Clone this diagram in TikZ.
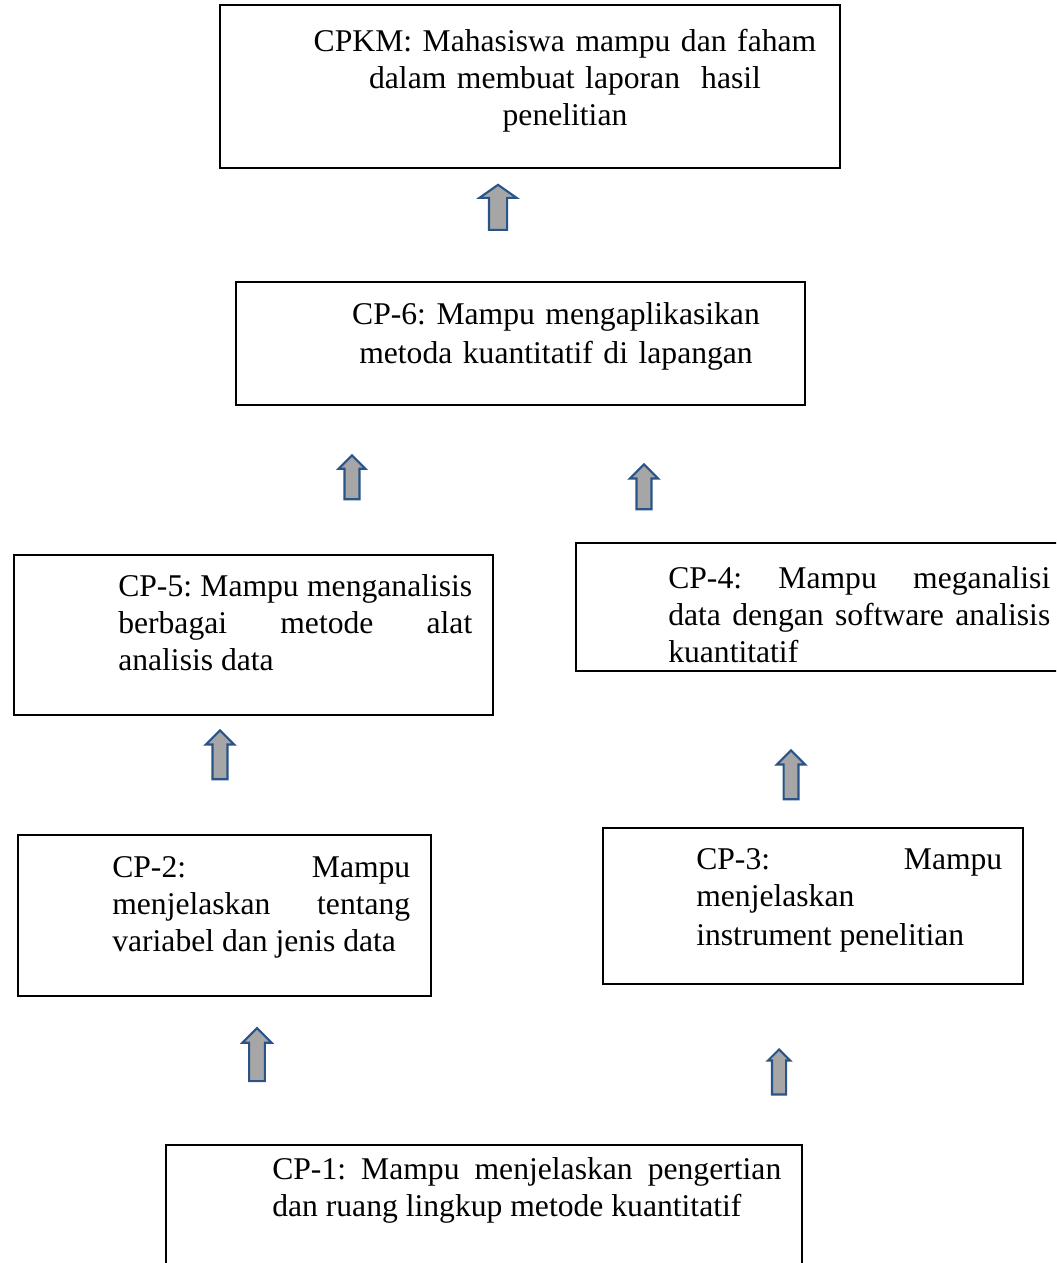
\documentclass[tikz,border=0pt]{standalone}
\usepackage{fontspec}
\setmainfont{Liberation Serif}
\usepackage{xcolor}
\usepackage{tikz}
\usetikzlibrary{shapes.arrows}
\definecolor{arrowblue}{HTML}{28548A}
\definecolor{arrowgray}{HTML}{A6A6A6}
\tikzset{
  cpbox/.style={
    draw=black,
    line width=1.4pt,
    inner sep=0pt
  },
  cptext/.style={
    inner sep=0pt,
    align=justify,
    anchor=base west,
    font=\fontsize{22.5}{26.4}\selectfont\frenchspacing
  },
  cptitle/.style={
    inner sep=0pt,
    align=center,
    anchor=base,
    text width=14cm,
    font=\fontsize{22.5}{26.4}\selectfont\frenchspacing
  },
  uparrow/.style={
    single arrow,
    draw=arrowblue,
    fill=arrowgray,
    line width=1.5pt,
    inner xsep=0pt,
    inner ysep=0.16cm,
    rotate=90,
    single arrow head extend=0.17cm,
    single arrow tip angle=90
  }
}
\begin{document}
\begin{tikzpicture}[x=1cm,y=1cm]
    \useasboundingbox (0,0) rectangle (26.4,-31.575);
    \clip (0,0) rectangle (26.4,-31.575);

    \node[cpbox,minimum width=15.5cm,minimum height=4.075cm] (cpkm) at (13.25,-2.1625) {};
    \node[cptitle] (cpkmtext) at (14.125,-1.275) {
      CPKM: Mahasiswa mampu dan faham\\
      dalam membuat laporan~ hasil\\
      penelitian};

    \node[cpbox,minimum width=14.225cm,minimum height=3.075cm] (cpsix) at (13.0125,-8.5875) {};
    \node[cptitle,text width=13cm] (cpsixtext) at (13.9,-8.1) {
      CP-6: Mampu mengaplikasikan\\[0.05cm]
      metoda kuantitatif di lapangan};

    \node[cpbox,minimum width=11.975cm,minimum height=4.0cm] (cpfive) at (6.3375,-15.875) {};
    \node[cptext,text width=8.85cm] (cpfivetext) at (2.95,-14.9) {
      CP-5: Mampu menganalisis\linebreak
      berbagai metode alat\linebreak
      analisis data};

    \node[cpbox,minimum width=12.2cm,minimum height=3.2cm] (cpfour) at (20.5,-15.175) {};
    \node[cptext,text width=9.55cm] (cpfourtext) at (16.7,-14.7) {
      CP-4: Mampu meganalisi\linebreak
      data dengan software analisis\linebreak
      kuantitatif};

    \node[cpbox,minimum width=10.325cm,minimum height=4.025cm] (cptwo) at (5.6125,-22.8875) {};
    \node[cptext,text width=7.45cm] (cptwotext) at (2.8,-21.925) {
      CP-2: Mampu\linebreak
      menjelaskan tentang\linebreak
      variabel dan jenis data};

    \node[cpbox,minimum width=10.5cm,minimum height=3.9cm] (cpthree) at (20.325,-22.65) {};
    \node[cptext,text width=7.65cm] (cpthreetext) at (17.4,-21.725) {
      CP-3: Mampu\linebreak
      menjelaskan\\[0.06cm]
      instrument penelitian};

    \node[cpbox,minimum width=15.9cm,minimum height=3.375cm] (cpone) at (12.1,-30.3125) {};
    \node[cptext,text width=12.725cm] (cponetext) at (6.8,-29.475) {
      CP-1: Mampu menjelaskan pengertian\linebreak
      dan ruang lingkup metode kuantitatif};

    \node[uparrow,minimum height=1.125cm,inner ysep=0.2cm,single arrow head extend=0.24cm,
      single arrow tip angle=110] (arrowkm) at (12.45,-5.2625) {};
    \node[uparrow,minimum height=1.1cm,single arrow head extend=0.15cm] (arrowfivesix) at (8.8,-12.025) {};
    \node[uparrow,minimum height=1.125cm] (arrowfoursix) at (16.1,-12.2625) {};
    \node[uparrow,minimum height=1.225cm] (arrowtwofive) at (5.5,-18.9625) {};
    \node[uparrow,minimum height=1.225cm] (arrowthreefour) at (19.775,-19.4625) {};
    \node[uparrow,minimum height=1.325cm,inner ysep=0.17cm] (arrowonetwo) at (6.425,-26.4625) {};
    \node[uparrow,minimum height=1.125cm,inner ysep=0.15cm,single arrow head extend=0.1cm] (arrowonethree) at (19.475,-26.8875) {};
  \end{tikzpicture}
\end{document}
